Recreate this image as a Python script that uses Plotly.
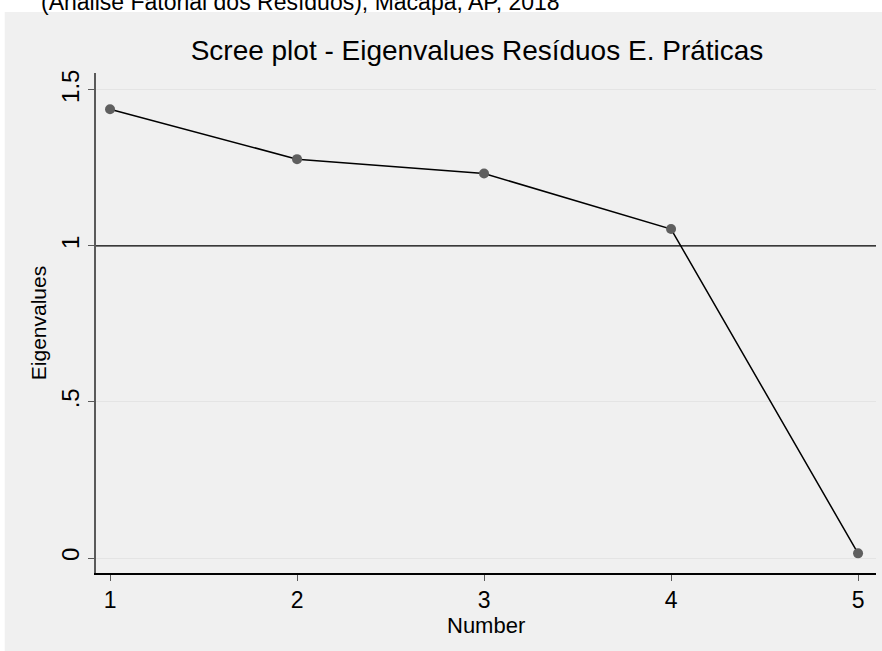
import plotly.graph_objects as go

# Scree plot data: component number and eigenvalue
components = [1, 2, 3, 4, 5]
eigenvalues = [1.438, 1.278, 1.232, 1.054, 0.015]

y_tickvals = [0, 0.5, 1, 1.5]
y_ticktext = ["0", ".5", "1", "1.5"]

FONT = "Arial, Liberation Sans, sans-serif"

fig = go.Figure()

fig.add_trace(go.Scatter(
    x=components,
    y=eigenvalues,
    mode="lines+markers",
    line=dict(color="black", width=1.5),
    marker=dict(color="rgb(95,95,95)", size=10),
    showlegend=False,
    cliponaxis=False,
))

# Reference line at eigenvalue = 1 (Kaiser criterion)
fig.add_hline(y=1, line=dict(color="black", width=1.3), layer="above")

# Gray graph region behind the plot area
fig.add_shape(type="rect", xref="paper", yref="paper",
              x0=-0.117, x1=1.03, y0=-0.2, y1=1.122,
              fillcolor="rgb(240,240,240)", line=dict(width=0), layer="below")

# Caption line running off the top of the page
fig.add_annotation(
    text="(Análise Fatorial dos Resíduos), Macapá, AP, 2018",
    xref="paper", yref="paper", x=(300 - 96) / 780, y=1.142,
    xanchor="center", yanchor="middle", showarrow=False,
    font=dict(family=FONT, size=23, color="black"),
)

# X-axis title, set tight under the tick labels
fig.add_annotation(
    text="Number",
    xref="paper", yref="paper", x=0.5, y=-0.104,
    xanchor="center", yanchor="middle", showarrow=False,
    font=dict(family=FONT, size=22, color="black"),
)

fig.update_layout(
    width=882, height=651,
    margin=dict(l=96, r=6, t=73, b=78),
    paper_bgcolor="white",
    plot_bgcolor="white",
    font=dict(family=FONT, color="black"),
    title=dict(
        text="Scree plot - Eigenvalues Resíduos E. Práticas",
        x=477 / 882, xanchor="center",
        y=1 - 50 / 651, yanchor="middle",
        font=dict(size=28, color="black"),
    ),
    xaxis=dict(
        range=[0.925, 5.096],
        tickvals=components,
        ticks="outside", ticklen=6, tickcolor="rgb(90,90,90)",
        tickfont=dict(size=23),
        showgrid=False, zeroline=False,
        showline=True, linecolor="black", linewidth=1.5,
    ),
    yaxis=dict(
        range=[-0.048, 1.554],
        tickvals=y_tickvals, ticktext=y_ticktext,
        tickangle=-90,
        ticks="outside", ticklen=6, tickcolor="rgb(90,90,90)",
        tickfont=dict(size=24),
        showgrid=True, gridcolor="rgb(228,228,228)", gridwidth=1,
        zeroline=False,
        showline=True, linecolor="rgb(90,90,90)", linewidth=1.5,
        title=dict(text="Eigenvalues", font=dict(size=21), standoff=4),
    ),
)

fig.write_html("out.html")
